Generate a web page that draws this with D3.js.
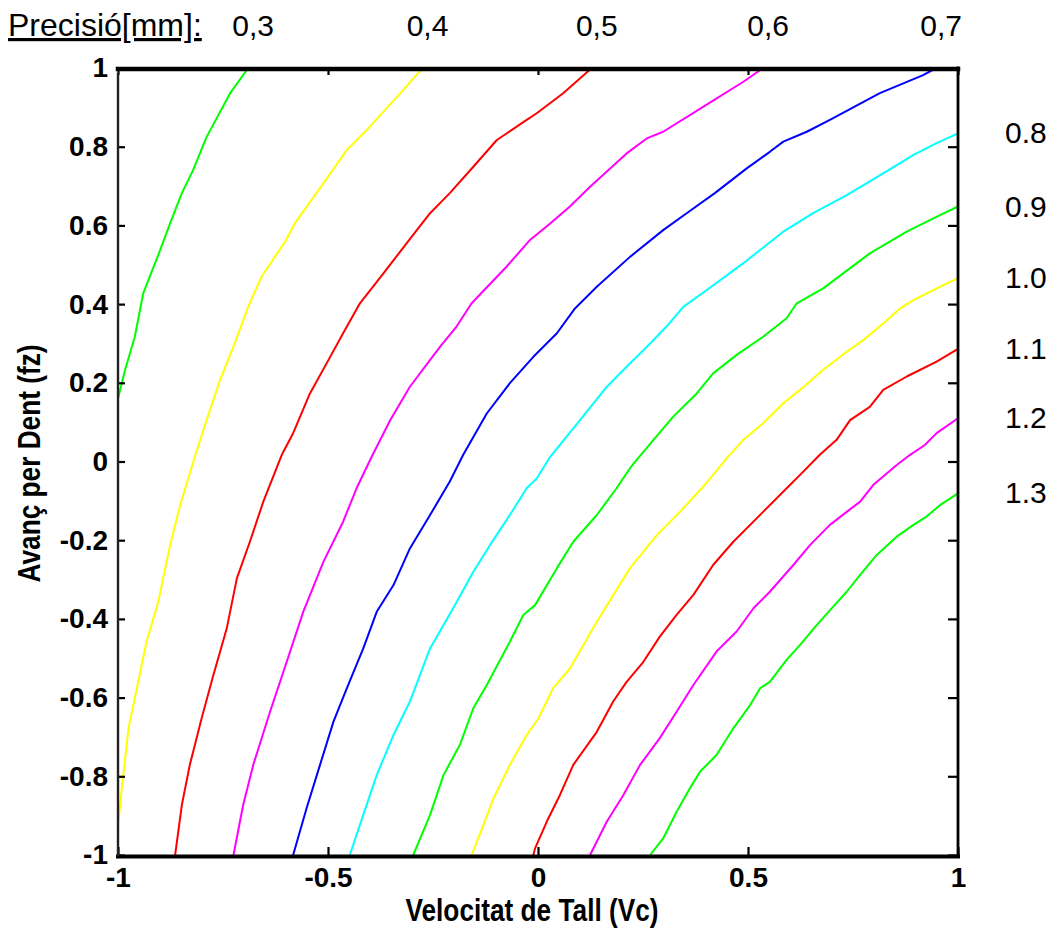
<!DOCTYPE html>
<html>
<head>
<meta charset="utf-8">
<script src="https://cdn.jsdelivr.net/npm/d3@7"></script>
<style>
  html, body { margin: 0; padding: 0; background: #fff; }
  svg { display: block; }
</style>
</head>
<body>
<svg id="chart" width="1056" height="943"></svg>
<script>
// Precision contour levels [mm]; the first five are labelled along the top, the rest on the right
const levelLabels = ["0,3", "0,4", "0,5", "0,6", "0,7", "0.8", "0.9", "1.0", "1.1", "1.2", "1.3"];

// Contour paths in (Vc, fz) coordinates; the first point of each is the labelled end
const c03 = [[-0.690,1],[-0.733,0.936],[-0.789,0.825],[-0.821,0.741],[-0.848,0.682],[-0.876,0.605],
  [-0.904,0.525],[-0.940,0.427],[-0.960,0.317],[-0.983,0.233],[-1,0.160]];
const c04 = [[-0.275,1],[-0.321,0.944],[-0.408,0.842],[-0.455,0.792],[-0.511,0.707],[-0.579,0.605],
  [-0.602,0.559],[-0.658,0.470],[-0.690,0.393],[-0.725,0.292],[-0.757,0.207],[-0.789,0.105],
  [-0.817,0.012],[-0.852,-0.111],[-0.876,-0.212],[-0.904,-0.356],[-0.932,-0.458],[-0.955,-0.576],
  [-0.975,-0.678],[-0.991,-0.831],[-1,-0.924]];
const c05 = [[0.128,1],[0.060,0.936],[-0.003,0.885],[-0.027,0.868],[-0.098,0.817],[-0.154,0.749],
  [-0.210,0.682],[-0.257,0.631],[-0.301,0.571],[-0.368,0.478],[-0.424,0.402],[-0.464,0.326],
  [-0.503,0.250],[-0.543,0.173],[-0.583,0.072],[-0.610,0.017],[-0.654,-0.102],[-0.686,-0.204],
  [-0.717,-0.297],[-0.741,-0.424],[-0.773,-0.543],[-0.801,-0.653],[-0.829,-0.771],[-0.848,-0.873],
  [-0.864,-1]];
const c06 = [[0.536,1],[0.489,0.965],[0.394,0.902],[0.298,0.838],[0.259,0.821],[0.211,0.783],
  [0.124,0.698],[0.076,0.648],[0.029,0.605],[-0.019,0.563],[-0.075,0.495],[-0.158,0.402],
  [-0.194,0.343],[-0.233,0.292],[-0.305,0.190],[-0.352,0.105],[-0.396,0.012],[-0.432,-0.068],
  [-0.464,-0.153],[-0.511,-0.255],[-0.559,-0.382],[-0.602,-0.521],[-0.638,-0.636],[-0.678,-0.771],
  [-0.702,-0.873],[-0.725,-1]];
const c07 = [[0.948,1],[0.917,0.982],[0.814,0.936],[0.695,0.868],[0.640,0.838],[0.584,0.813],
  [0.552,0.787],[0.497,0.745],[0.421,0.682],[0.354,0.631],[0.298,0.588],[0.219,0.520],
  [0.140,0.444],[0.088,0.389],[0.045,0.326],[-0.011,0.266],[-0.067,0.199],[-0.122,0.122],
  [-0.178,0.017],[-0.210,-0.051],[-0.257,-0.136],[-0.305,-0.221],[-0.344,-0.314],[-0.384,-0.382],
  [-0.416,-0.475],[-0.455,-0.576],[-0.487,-0.661],[-0.519,-0.771],[-0.551,-0.881],[-0.583,-1]];
const c08 = [[1,0.834],[0.949,0.809],[0.894,0.779],[0.822,0.732],[0.735,0.677],[0.655,0.631],
  [0.584,0.584],[0.489,0.504],[0.402,0.436],[0.346,0.393],[0.306,0.343],[0.267,0.300],
  [0.211,0.241],[0.164,0.190],[0.100,0.105],[0.029,0.012],[-0.003,-0.043],[-0.027,-0.068],
  [-0.067,-0.136],[-0.114,-0.212],[-0.154,-0.280],[-0.202,-0.373],[-0.257,-0.475],[-0.305,-0.610],
  [-0.344,-0.695],[-0.384,-0.797],[-0.416,-0.898],[-0.448,-1]];
const c09 = [[1,0.648],[0.957,0.626],[0.878,0.584],[0.790,0.529],[0.679,0.440],[0.616,0.402],
  [0.592,0.364],[0.536,0.317],[0.473,0.271],[0.417,0.224],[0.378,0.173],[0.322,0.114],
  [0.275,0.055],[0.235,0.004],[0.219,-0.017],[0.187,-0.068],[0.140,-0.136],[0.084,-0.204],
  [0.045,-0.271],[-0.007,-0.365],[-0.035,-0.390],[-0.067,-0.458],[-0.122,-0.568],[-0.154,-0.627],
  [-0.186,-0.720],[-0.225,-0.797],[-0.257,-0.898],[-0.297,-1]];
const c10 = [[1,0.466],[0.957,0.444],[0.894,0.410],[0.862,0.389],[0.822,0.351],[0.775,0.309],
  [0.735,0.279],[0.679,0.233],[0.624,0.182],[0.584,0.148],[0.536,0.097],[0.489,0.055],
  [0.449,0.008],[0.417,-0.034],[0.390,-0.068],[0.338,-0.128],[0.283,-0.187],[0.219,-0.271],
  [0.140,-0.407],[0.076,-0.526],[0.036,-0.576],[0.001,-0.653],[-0.027,-0.695],[-0.067,-0.771],
  [-0.106,-0.856],[-0.130,-0.924],[-0.158,-1]];
const c11 = [[1,0.286],[0.949,0.254],[0.878,0.216],[0.822,0.182],[0.790,0.139],[0.743,0.105],
  [0.711,0.055],[0.671,0.017],[0.624,-0.034],[0.592,-0.068],[0.536,-0.128],[0.465,-0.204],
  [0.417,-0.263],[0.370,-0.339],[0.330,-0.390],[0.290,-0.445],[0.251,-0.509],[0.211,-0.560],
  [0.179,-0.610],[0.140,-0.687],[0.084,-0.771],[0.052,-0.848],[0.021,-0.915],[-0.007,-0.983],
  [-0.011,-1]];
const c12 = [[1,0.110],[0.949,0.072],[0.921,0.042],[0.886,0.017],[0.854,-0.009],[0.798,-0.060],
  [0.767,-0.102],[0.735,-0.128],[0.695,-0.161],[0.648,-0.212],[0.608,-0.263],[0.552,-0.331],
  [0.513,-0.373],[0.473,-0.432],[0.425,-0.483],[0.370,-0.568],[0.330,-0.636],[0.290,-0.703],
  [0.243,-0.771],[0.203,-0.848],[0.164,-0.915],[0.124,-1]];
const c13 = [[1,-0.081],[0.957,-0.111],[0.925,-0.140],[0.894,-0.161],[0.854,-0.191],[0.806,-0.238],
  [0.767,-0.288],[0.735,-0.331],[0.703,-0.369],[0.664,-0.415],[0.624,-0.466],[0.592,-0.504],
  [0.552,-0.560],[0.529,-0.576],[0.505,-0.619],[0.465,-0.678],[0.425,-0.746],[0.386,-0.788],
  [0.362,-0.830],[0.330,-0.890],[0.298,-0.958],[0.267,-1]];

const contours = [c03, c04, c05, c06, c07, c08, c09, c10, c11, c12, c13];

// Axis ticks
const xTicks = [-1, -0.5, 0, 0.5, 1];
const xTickLabels = ["-1", "-0.5", "0", "0.5", "1"];
const yTicks = [-1, -0.8, -0.6, -0.4, -0.2, 0, 0.2, 0.4, 0.6, 0.8, 1];
const yTickLabels = ["-1", "-0.8", "-0.6", "-0.4", "-0.2", "0", "0.2", "0.4", "0.6", "0.8", "1"];

const xTitle = "Velocitat de Tall (Vc)";
const yTitle = "Avanç per Dent (fz)";
const headerTitle = "Precisió[mm]:";

// ---- drawing ----
const svg = d3.select("#chart");
const plotLeft = 118, plotRight = 958, plotTop = 68, plotBottom = 855;

const x = d3.scaleLinear().domain([-1, 1]).range([plotLeft, plotRight]);
const y = d3.scaleLinear().domain([-1, 1]).range([plotBottom, plotTop]);

// one stroke colour per contour, in level order
const lineColors = ["#00ff00", "#ffff00", "#ff0000", "#ff00ff", "#0000ff", "#00ffff",
                    "#00ff00", "#ffff00", "#ff0000", "#ff00ff", "#00ff00"];
const textFont = "'Liberation Sans', Arial, Helvetica, sans-serif";

// contour lines
const line = d3.line().x(d => x(d[0])).y(d => y(d[1]));
svg.append("g")
  .selectAll("path")
  .data(contours)
  .join("path")
  .attr("d", line)
  .attr("fill", "none")
  .attr("stroke", (d, i) => lineColors[i])
  .attr("stroke-width", 2)
  .attr("stroke-linejoin", "round");

// axes with inward ticks
function styleAxis(g) {
  g.select(".domain").remove();
  g.selectAll(".tick line").attr("stroke", "#000").attr("stroke-width", 2.2);
  g.selectAll(".tick text")
    .attr("fill", "#000")
    .style("font-family", textFont)
    .style("font-weight", "bold")
    .style("font-size", "28px");
}

const fmtX = (d) => xTickLabels[xTicks.indexOf(d)];
const fmtY = (d) => yTickLabels[yTicks.indexOf(d)];

svg.append("g")
  .attr("transform", `translate(0,${plotBottom})`)
  .call(d3.axisBottom(x).tickValues(xTicks).tickFormat(fmtX).tickSize(-8).tickPadding(12))
  .call(styleAxis);

svg.append("g")
  .attr("transform", `translate(0,${plotTop})`)
  .call(d3.axisTop(x).tickValues(xTicks).tickFormat("").tickSize(-7))
  .call(styleAxis);

svg.append("g")
  .attr("transform", `translate(${plotLeft},0)`)
  .call(d3.axisLeft(y).tickValues(yTicks).tickFormat(fmtY).tickSize(-7).tickPadding(10))
  .call(styleAxis);

svg.append("g")
  .attr("transform", `translate(${plotRight},0)`)
  .call(d3.axisRight(y).tickValues(yTicks).tickFormat("").tickSize(-10))
  .call(styleAxis);

// frame
const frame = svg.append("g").attr("stroke-linecap", "square");
frame.append("line").attr("x1", plotLeft).attr("x2", plotRight).attr("y1", plotTop + 1).attr("y2", plotTop + 1)
  .attr("stroke", "#000").attr("stroke-width", 4.5);
frame.append("line").attr("x1", plotLeft).attr("x2", plotRight).attr("y1", plotBottom + 1.5).attr("y2", plotBottom + 1.5)
  .attr("stroke", "#000").attr("stroke-width", 4);
frame.append("line").attr("x1", plotLeft).attr("x2", plotLeft).attr("y1", plotTop + 6).attr("y2", plotBottom)
  .attr("stroke", "#222").attr("stroke-width", 2.4);
frame.append("line").attr("x1", plotRight).attr("x2", plotRight).attr("y1", plotTop).attr("y2", plotBottom)
  .attr("stroke", "#000").attr("stroke-width", 2.8);

// axis titles
svg.append("text")
  .attr("transform", `translate(${(plotLeft + plotRight) / 2 - 6},921) scale(0.82,1)`)
  .attr("text-anchor", "middle")
  .style("font-family", textFont)
  .style("font-weight", "bold")
  .style("font-size", "32px")
  .text(xTitle);

svg.append("text")
  .attr("transform", `translate(40,${(plotTop + plotBottom) / 2 + 2}) rotate(-90) scale(0.82,1)`)
  .attr("text-anchor", "middle")
  .style("font-family", textFont)
  .style("font-weight", "bold")
  .style("font-size", "32px")
  .text(yTitle);

// level labels
svg.append("text")
  .attr("x", 8).attr("y", 36)
  .style("font-family", textFont)
  .style("font-size", "32px")
  .style("text-decoration", "underline")
  .text(headerTitle);

const labelled = contours.map((c, i) => ({ end: c[0], label: levelLabels[i] }));

svg.append("g")
  .selectAll("text")
  .data(labelled.filter(d => d.end[1] === 1))
  .join("text")
  .attr("x", d => x(d.end[0]) + 5)
  .attr("y", 36)
  .attr("text-anchor", "middle")
  .style("font-family", textFont)
  .style("font-size", "30px")
  .text(d => d.label);

svg.append("g")
  .selectAll("text")
  .data(labelled.filter(d => d.end[0] === 1))
  .join("text")
  .attr("x", 1005)
  .attr("y", d => y(d.end[1]) + 10)
  .style("font-family", textFont)
  .style("font-size", "30px")
  .text(d => d.label);
</script>
</body>
</html>
